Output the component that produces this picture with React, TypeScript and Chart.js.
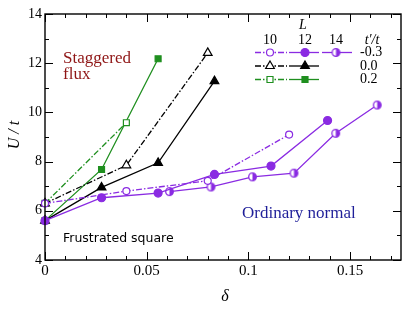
import React, { useEffect, useRef } from 'react';
import { Chart, registerables } from 'chart.js';
Chart.register(...registerables);

const PURPLE = '#8a2be2';
const BLACK = '#000000';
const GREEN = '#1f8f1f';

// delta values for each system size L
const deltaL10 = [0, 0.04, 0.08, 0.12];
const deltaL12 = [0, 0.0278, 0.0556, 0.0833, 0.1111, 0.1389];
const deltaL14 = [0.0612, 0.0816, 0.102, 0.1224, 0.1429, 0.1633];

// U/t values, t'/t = -0.3
const uNeg03L10 = [6.3, 6.8, 7.22, 9.1];
const uNeg03L12 = [5.6, 6.53, 6.72, 7.48, 7.82, 9.67];
const uNeg03L14 = [6.78, 6.97, 7.38, 7.53, 9.15, 10.3];
// t'/t = 0.0
const uZeroL10 = [6.3, 7.85, 12.42];
const uZeroL12 = [5.6, 6.95, 7.95, 11.27];
// t'/t = 0.2
const uPosL10 = [6.3, 9.58];
const uPosL12 = [5.6, 7.68, 12.18];

const xTicks = [0, 0.05, 0.1, 0.15];
const xTickLabels = ['0', '0.05', '0.1', '0.15'];
const yTicks = [4, 6, 8, 10, 12, 14];
const legendSizes = ['10', '12', '14'];
const legendTp = ['-0.3', '0.0', '0.2'];

const SERIF = "'Liberation Serif', 'Times New Roman', serif";
const DASHDOT = [6, 2, 1.5, 2];

const pts = (xs: number[], ys: number[]) => ys.map((y, i) => ({ x: xs[i], y }));

function makeHalfCircle(color: string, r: number) {
  const c = document.createElement('canvas');
  const s = Math.ceil(r * 2 + 3);
  c.width = s;
  c.height = s;
  const g = c.getContext('2d')!;
  const cx = s / 2, cy = s / 2;
  g.beginPath();
  g.arc(cx, cy, r, 0, Math.PI * 2);
  g.fillStyle = '#fff';
  g.fill();
  g.beginPath();
  g.moveTo(cx, cy - r);
  g.arc(cx, cy, r, -Math.PI / 2, Math.PI / 2);
  g.closePath();
  g.fillStyle = color;
  g.fill();
  g.beginPath();
  g.arc(cx, cy, r, 0, Math.PI * 2);
  g.strokeStyle = color;
  g.lineWidth = 1.3;
  g.stroke();
  return c;
}

function drawMarker(ctx: CanvasRenderingContext2D, kind: string, x: number, y: number, color: string, filled: boolean, half?: HTMLCanvasElement) {
  ctx.save();
  ctx.setLineDash([]);
  ctx.lineWidth = 1.2;
  ctx.strokeStyle = color;
  ctx.fillStyle = filled ? color : '#fff';
  if (kind === 'half' && half) {
    ctx.drawImage(half, x - half.width / 2, y - half.height / 2);
    ctx.restore();
    return;
  }
  ctx.beginPath();
  if (kind === 'circle') {
    ctx.arc(x, y, filled ? 4 : 3.5, 0, Math.PI * 2);
  } else if (kind === 'triangle') {
    const r = 5;
    ctx.moveTo(x, y - r);
    ctx.lineTo(x + r * 0.866, y + r * 0.5);
    ctx.lineTo(x - r * 0.866, y + r * 0.5);
    ctx.closePath();
  } else {
    ctx.rect(x - 3, y - 3, 6, 6);
  }
  ctx.fill();
  ctx.stroke();
  ctx.restore();
}

export default function App() {
  const ref = useRef<HTMLCanvasElement>(null);
  useEffect(() => {
    const half = makeHalfCircle(PURPLE, 3.8);
    const ds = (label: string, xs: number[], ys: number[], color: string, dashed: boolean, style: any, filled: boolean, radius: number) => ({
      label,
      data: pts(xs, ys),
      borderColor: color,
      borderWidth: 1.3,
      borderDash: dashed ? DASHDOT : [],
      pointStyle: style,
      pointRadius: radius,
      pointBorderWidth: 1.2,
      pointBorderColor: color,
      pointBackgroundColor: filled ? color : '#ffffff',
      fill: false,
      tension: 0,
      clip: false as any,
    });
    const annotations = {
      id: 'annotations',
      afterDraw(chart: any) {
        const ctx: CanvasRenderingContext2D = chart.ctx;
        const { left, right, top, bottom } = chart.chartArea;
        const xs = chart.scales.x;
        const ys = chart.scales.y;
        ctx.save();
        // frame
        ctx.strokeStyle = '#000';
        ctx.lineWidth = 1.4;
        ctx.setLineDash([]);
        ctx.strokeRect(left, top, right - left, bottom - top);
        // ticks inward
        ctx.lineWidth = 1;
        ctx.beginPath();
        for (let i = 0; i <= 17; i++) {
          const v = i / 100;
          const px = Math.round(xs.getPixelForValue(v)) + 0.5;
          const len = i % 5 === 0 ? 8 : 4;
          ctx.moveTo(px, bottom);
          ctx.lineTo(px, bottom - len);
          ctx.moveTo(px, top);
          ctx.lineTo(px, top + len);
        }
        for (let v = 4; v <= 14; v++) {
          const py = Math.round(ys.getPixelForValue(v)) + 0.5;
          const len = v % 2 === 0 ? 8 : 4;
          ctx.moveTo(left, py);
          ctx.lineTo(left + len, py);
          ctx.moveTo(right, py);
          ctx.lineTo(right - len, py);
        }
        ctx.stroke();

        // axis titles
        ctx.fillStyle = '#000';
        ctx.font = `italic 16px ${SERIF}`;
        ctx.textAlign = 'center';
        ctx.textBaseline = 'middle';
        ctx.save();
        ctx.translate(15, 135);
        ctx.rotate(-Math.PI / 2);
        ctx.fillText('U / t', 0, 0);
        ctx.restore();
        ctx.fillText('δ', 225, 297);

        // region labels
        ctx.textAlign = 'left';
        ctx.textBaseline = 'alphabetic';
        ctx.fillStyle = '#8f1515';
        ctx.font = `17px ${SERIF}`;
        ctx.fillText('Staggered', 63, 63);
        ctx.fillText('flux', 63, 79);
        ctx.fillStyle = '#000';
        ctx.font = "12.5px 'DejaVu Sans', sans-serif";
        ctx.fillText('Frustrated square', 63, 242);
        ctx.fillStyle = '#1f1f99';
        ctx.font = `17px ${SERIF}`;
        ctx.fillText('Ordinary normal', 242, 218);

        // legend
        ctx.fillStyle = '#000';
        ctx.textAlign = 'center';
        ctx.textBaseline = 'middle';
        ctx.font = `italic 14px ${SERIF}`;
        ctx.fillText('L', 303, 25);
        ctx.fillText('t′/t', 372, 40);
        ctx.font = `14px ${SERIF}`;
        const colX = [270, 305, 336];
        legendSizes.forEach((s, i) => ctx.fillText(s, colX[i], 40));
        const rowY = [52.5, 66, 79.5];
        ctx.textAlign = 'left';
        legendTp.forEach((s, i) => ctx.fillText(s, 360, rowY[i]));
        const rows = [
          { color: PURPLE, kinds: ['circle', 'circle', 'half'] },
          { color: BLACK, kinds: ['triangle', 'triangle'] },
          { color: GREEN, kinds: ['rect', 'rect'] },
        ];
        const segs = [[255, 287], [289, 319], [322, 352]];
        rows.forEach((r, ri) => {
          const y = rowY[ri];
          r.kinds.forEach((k, ki) => {
            ctx.save();
            ctx.strokeStyle = r.color;
            ctx.lineWidth = 1.3;
            ctx.setLineDash(ki === 0 ? DASHDOT : []);
            ctx.beginPath();
            ctx.moveTo(segs[ki][0], y);
            ctx.lineTo(segs[ki][1], y);
            ctx.stroke();
            ctx.restore();
            drawMarker(ctx, k, colX[ki], y, r.color, ki !== 0, half);
          });
        });
        ctx.restore();
      },
    };
    const chart = new Chart(ref.current!, {
      type: 'line',
      data: {
        datasets: [
          ds('L10 -0.3', deltaL10, uNeg03L10, PURPLE, true, 'circle', false, 3.5),
          ds('L12 -0.3', deltaL12, uNeg03L12, PURPLE, false, 'circle', true, 4),
          ds('L14 -0.3', deltaL14, uNeg03L14, PURPLE, false, half, false, 4),
          ds('L10 0.0', deltaL10, uZeroL10, BLACK, true, 'triangle', false, 5),
          ds('L12 0.0', deltaL12, uZeroL12, BLACK, false, 'triangle', true, 5),
          ds('L10 0.2', deltaL10, uPosL10, GREEN, true, 'rect', false, 4.2),
          ds('L12 0.2', deltaL12, uPosL12, GREEN, false, 'rect', true, 4.2),
        ] as any,
      },
      options: {
        animation: false,
        responsive: false,
        devicePixelRatio: 1,
        layout: { padding: { left: 0, top: 14, right: 8, bottom: 0 } },
        plugins: { legend: { display: false }, tooltip: { enabled: false } },
        scales: {
          x: {
            type: 'linear',
            min: 0,
            max: 0.175,
            grid: { display: false, drawTicks: false },
            border: { display: false },
            afterBuildTicks: (s: any) => { s.ticks = xTicks.map((v) => ({ value: v })); },
            afterFit: (s: any) => { s.height = 52; },
            ticks: {
              padding: 2,
              maxRotation: 0,
              autoSkip: false,
              color: '#000',
              font: { family: SERIF, size: 15 },
              callback: (_v: any, i: number) => xTickLabels[i],
            },
          },
          y: {
            type: 'linear',
            min: 4,
            max: 14,
            grid: { display: false, drawTicks: false },
            border: { display: false },
            afterBuildTicks: (s: any) => { s.ticks = yTicks.map((v) => ({ value: v })); },
            afterFit: (s: any) => { s.width = 45; },
            ticks: {
              padding: 3,
              autoSkip: false,
              color: '#000',
              font: { family: SERIF, size: 14 },
              callback: (v: any) => String(v),
            },
          },
        },
      },
      plugins: [annotations],
    });
    return () => chart.destroy();
  }, []);
  return (
    <div style={{ position: 'absolute', left: 0, top: 0, width: 409, height: 312 }}>
      <canvas ref={ref} width={409} height={312} />
    </div>
  );
}
